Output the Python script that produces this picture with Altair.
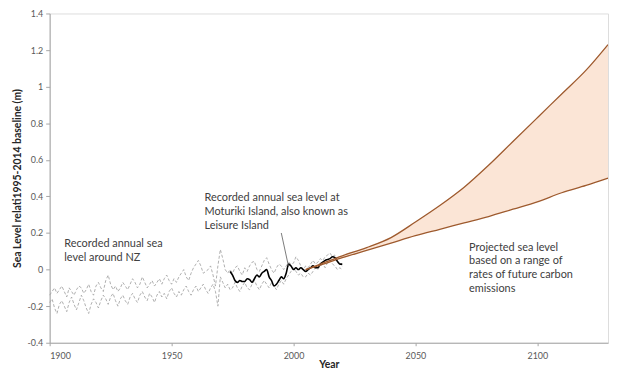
import altair as alt
import pandas as pd

# ---- data ----
years_hist = list(range(1900, 2021))
nz_upper = [-0.14, -0.12, -0.10, -0.13, -0.11, -0.09, -0.12, -0.15, -0.10, -0.12,
            -0.14, -0.11, -0.09, -0.10, -0.13, -0.11, -0.08, -0.12, -0.14, -0.09,
            -0.07, -0.10, -0.12, -0.06, -0.03, -0.08, -0.11, -0.09, -0.12, -0.10,
            -0.07, -0.09, -0.11, -0.08, -0.05, -0.07, -0.10, -0.08, -0.04, -0.07,
            -0.10, -0.08, -0.06, -0.09, -0.07, -0.05, -0.08, -0.05, -0.03, -0.06,
            -0.08, -0.05, -0.07, -0.04, -0.02, 0.00, -0.04, -0.06, -0.02, 0.01,
            0.03, 0.05, 0.02, -0.02, -0.01, 0.00, 0.02, -0.03, -0.09, 0.02,
            0.11, 0.06, 0.00, -0.02, 0.00, -0.02, 0.01, 0.02, -0.01, -0.03,
            0.01, -0.01, 0.02, 0.04, 0.045, 0.00, -0.01, 0.02, 0.05, 0.065,
            0.03, 0.00, -0.02, 0.01, 0.03, 0.02, 0.00, 0.02, 0.04, 0.03,
            0.035, 0.07, 0.05, 0.02, 0.00, 0.02, 0.01, 0.03, 0.05, 0.03,
            0.04, 0.06, 0.05, 0.07, 0.08, 0.09, 0.07, 0.08, 0.05, 0.03,
            0.02]
nz_lower = [-0.18, -0.16, -0.21, -0.24, -0.19, -0.17, -0.20, -0.23, -0.18, -0.15,
            -0.19, -0.22, -0.18, -0.14, -0.17, -0.21, -0.24, -0.19, -0.16, -0.18,
            -0.21, -0.17, -0.14, -0.16, -0.19, -0.15, -0.13, -0.17, -0.20, -0.16,
            -0.14, -0.17, -0.19, -0.15, -0.13, -0.16, -0.18, -0.14, -0.12, -0.15,
            -0.17, -0.13, -0.15, -0.18, -0.14, -0.12, -0.15, -0.13, -0.16, -0.12,
            -0.10, -0.13, -0.15, -0.12, -0.14, -0.11, -0.09, -0.12, -0.14, -0.11,
            -0.09, -0.12, -0.10, -0.08, -0.11, -0.13, -0.10, -0.08, -0.12, -0.20,
            -0.04, -0.07, -0.10, -0.08, -0.11, -0.10, -0.07, -0.10, -0.12, -0.09,
            -0.07, -0.10, -0.11, -0.08, -0.06, -0.09, -0.11, -0.08, -0.06, -0.08,
            -0.10, -0.07, -0.09, -0.11, -0.08, -0.06, -0.08, -0.05, -0.03, -0.01,
            0.01, -0.01, -0.03, -0.02, -0.04, -0.04, -0.02, -0.03, -0.01, 0.01,
            0.00, 0.02, 0.03, 0.01, 0.04, 0.05, 0.03, 0.02, 0.00, 0.01,
            0.00]

years_moturiki = list(range(1974, 2021))
moturiki = [-0.01, -0.03, -0.06, -0.07, -0.06, -0.065, -0.065, -0.05, -0.055, -0.07,
            -0.05, -0.03, -0.04, -0.02, -0.01, 0.00, -0.04, -0.06, -0.09, -0.08,
            -0.06, -0.04, -0.05, -0.02, 0.03, 0.02, 0.00, 0.01, 0.00, 0.01,
            0.00, -0.01, 0.00, 0.01, 0.02, 0.01, 0.01, 0.03, 0.04, 0.05,
            0.055, 0.06, 0.07, 0.065, 0.045, 0.03, 0.03]

years_proj = [2005, 2010, 2020, 2030, 2040, 2050, 2060, 2070, 2080, 2090, 2100, 2110, 2120, 2129]
proj_high = [0.0, 0.025, 0.075, 0.12, 0.175, 0.26, 0.35, 0.45, 0.57, 0.70, 0.83, 0.96, 1.09, 1.23]
proj_low = [0.0, 0.02, 0.065, 0.105, 0.145, 0.185, 0.22, 0.255, 0.29, 0.33, 0.37, 0.42, 0.46, 0.50]

x_ticks = [1900, 1950, 2000, 2050, 2100]
y_ticks = [-0.4, -0.2, 0, 0.2, 0.4, 0.6, 0.8, 1.0, 1.2, 1.4]

label_nz = ["Recorded annual sea", "level around NZ"]
label_mot = ["Recorded annual sea level at", "Moturiki Island, also known as", "Leisure Island"]
label_proj = ["Projected sea level", "based on a range of", "rates of future carbon", "emissions"]

# ---- tables ----
hist = pd.DataFrame({
    "Year": years_hist * 2,
    "Level": nz_upper + nz_lower,
    "Series": ["A"] * len(years_hist) + ["B"] * len(years_hist),
})
mot = pd.DataFrame({"Year": years_moturiki, "Level": moturiki})
proj = pd.DataFrame({"Year": years_proj, "High": proj_high, "Low": proj_low})

FONT = "Lato"
TXT = "#404040"
BROWN = "#9E5A2E"

xscale = alt.Scale(domain=[1900, 2129], nice=False, zero=False)
yscale = alt.Scale(domain=[-0.4, 1.4], nice=False)

xax = alt.Axis(values=x_ticks, format="d", title="Year", grid=False, labelOverlap=False,
               labelFontSize=9, titleFontSize=10.5, titleFont=FONT, labelFont=FONT,
               labelColor="#595959", titleColor="#262626", domainColor="#A6A6A6",
               tickColor="#A6A6A6", tickSize=3, labelPadding=6, titlePadding=-1)
yax = alt.Axis(values=y_ticks, title="Sea Level relati1995-2014 baseline (m)", grid=False,
               labelOverlap=False, labelExpr="toString(round(datum.value*10)/10)",
               labelFontSize=9, titleFontSize=10.5, titleFont=FONT, labelFont=FONT,
               labelColor="#595959", titleColor="#262626", domainColor="#A6A6A6",
               tickColor="#A6A6A6", tickSize=4, labelPadding=3, titlePadding=4)

X = alt.X("Year:Q", scale=xscale, axis=xax)


def Y(field):
    return alt.Y(field, scale=yscale, axis=yax)


def XD(v):
    return alt.XDatum(v, scale=xscale, axis=xax)


def YD(v):
    return alt.YDatum(v, scale=yscale, axis=yax)


area = alt.Chart(proj).mark_area(color="#FBE5D6", opacity=1, clip=True).encode(
    x=X, y=Y("Low:Q"), y2="High:Q")

dashed = alt.Chart(hist).mark_line(color="#A6A6A6", strokeDash=[3, 2], strokeWidth=0.9).encode(
    x=X, y=Y("Level:Q"), detail="Series:N")

black = alt.Chart(mot).mark_line(color="#000000", strokeWidth=1.6, interpolate="monotone").encode(
    x=X, y=Y("Level:Q"))

high = alt.Chart(proj).mark_line(color=BROWN, strokeWidth=1.3, interpolate="monotone", clip=True).encode(
    x=X, y=Y("High:Q"))
low = alt.Chart(proj).mark_line(color=BROWN, strokeWidth=1.3, interpolate="monotone", clip=True).encode(
    x=X, y=Y("Low:Q"))

pointer = alt.Chart(pd.DataFrame({"k": [0]})).mark_rule(color="#595959", strokeWidth=0.8).encode(
    x=XD(1995.0), y=YD(0.20), x2=alt.datum(1998.0), y2=alt.datum(0.015))


def note(lines, xv, yv):
    return alt.Chart(pd.DataFrame({"t": [lines]})).mark_text(
        align="left", baseline="middle", font=FONT, fontSize=11, color=TXT, lineHeight=14
    ).encode(x=XD(xv), y=YD(yv), text="t")


t1 = note(label_nz, 1906, 0.14)
t2 = note(label_mot, 1963.5, 0.39)
t3 = note(label_proj, 2072, 0.12)

chart = alt.layer(area, dashed, black, high, low, pointer, t1, t2, t3).properties(
    width=563, height=332,
    autosize=alt.AutoSizeParams(type="none"),
    padding={"left": 42, "top": 4, "right": 4, "bottom": 30},
).configure_view(stroke="#A6A6A6", strokeWidth=1).configure(background="white")

chart.save("out.html", embed_options={"renderer": "svg", "actions": False})
